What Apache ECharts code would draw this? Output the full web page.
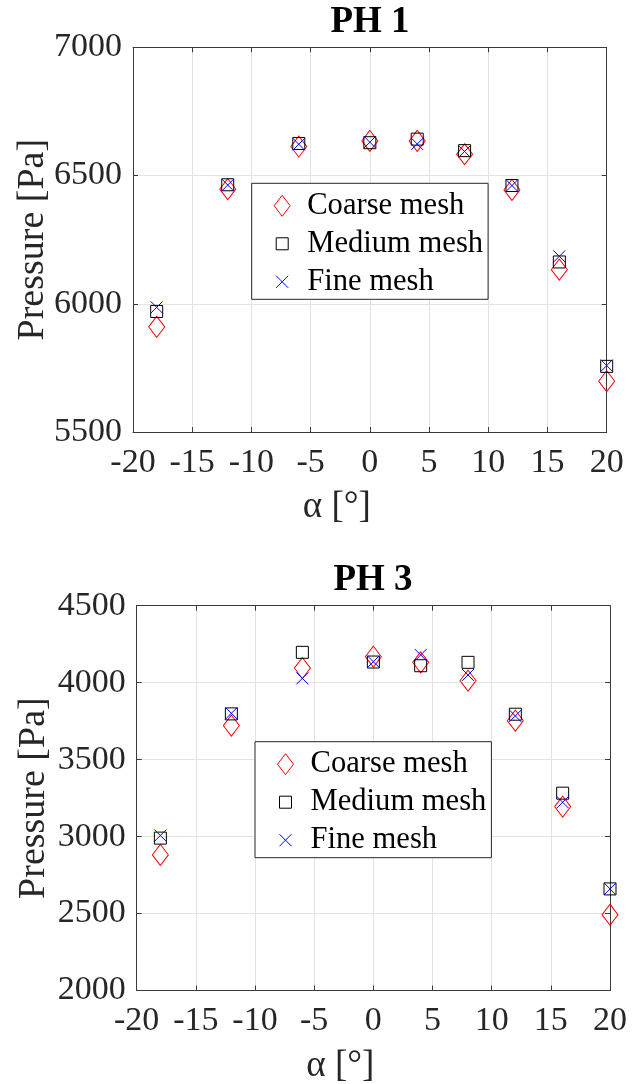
<!DOCTYPE html>
<html>
<head>
<meta charset="utf-8">
<script src="https://cdn.jsdelivr.net/npm/echarts@6/dist/echarts.min.js"></script>
<style>
  html, body { margin: 0; padding: 0; background: #fff; }
  #chart { width: 639px; height: 1084px; }
</style>
</head>
<body>
<div id="chart"></div>
<script>
// Angle of attack (deg)
const alpha = [-18, -12, -6, 0, 4, 8, 12, 16, 20];

// PH 1 pressure (Pa) for the three meshes
const ph1Coarse = [5910, 6447, 6613, 6635, 6635, 6583, 6444, 6133, 5698];
const ph1Medium = [5970, 6464, 6625, 6628, 6642, 6597, 6461, 6163, 5756];
const ph1Fine   = [5986, 6463, 6622, 6630, 6623, 6594, 6461, 6185, 5759];

// PH 3 pressure (Pa) for the three meshes
const ph3Coarse = [2881, 3721, 4095, 4169, 4132, 4013, 3753, 3195, 2492];
const ph3Medium = [2990, 3797, 4197, 4134, 4110, 4132, 3795, 3282, 2660];
const ph3Fine   = [3007, 3801, 4028, 4136, 4180, 4050, 3784, 3223, 2660];

const seriesNames = ['Coarse mesh', 'Medium mesh', 'Fine mesh'];
const xTicks = { min: -20, max: 20, interval: 5 };
const ph1Ticks = { min: 5500, max: 7000, interval: 500 };
const ph3Ticks = { min: 2000, max: 4500, interval: 500 };

const SERIF = 'Liberation Serif, Times New Roman, serif';
const AXIS_COLOR = '#3a3a3a';
const TEXT_COLOR = '#262626';
const GRID_COLOR = '#e3e3e3';

const pairs = (ys) => alpha.map((a, i) => [a, ys[i]]);
const plain = (v) => String(v);

// marker styles (hollow)
const markerStyles = [
  { symbol: 'diamond', symbolSize: [16, 21], color: '#ff0000' },
  { symbol: 'rect', symbolSize: 12, color: '#000000' },
  { symbol: 'path://M0,0L10,10M10,0L0,10', symbolSize: 12, color: '#0000ff' }
];

// legend icons drawn in a fixed 40x21 frame so each keeps its own size
const legendIcons = [
  'path://M0,0M40,21M20,0L28,10.5L20,21L12,10.5Z',
  'path://M0,0M40,21M14,4.5L26,4.5L26,16.5L14,16.5Z',
  'path://M0,0M40,21M14,4.5L26,16.5M26,4.5L14,16.5'
];

function makeGrid(rect) { return Object.assign({ containLabel: false, outerBoundsMode: 'none' }, rect); }

function mainXAxis(gridIndex) {
  return {
    type: 'value', gridIndex, position: 'bottom',
    min: xTicks.min, max: xTicks.max, interval: xTicks.interval,
    name: 'α [°]', nameLocation: 'middle', nameGap: 57, nameMoveOverlap: false,
    nameTextStyle: { fontFamily: SERIF, fontSize: 37, color: TEXT_COLOR, padding: [0, 66, 0, 0] },
    axisLine: { show: true, onZero: false, lineStyle: { color: AXIS_COLOR, width: 1 } },
    axisTick: { show: true, inside: true, length: 5, lineStyle: { color: AXIS_COLOR } },
    axisLabel: { margin: 14, fontFamily: SERIF, fontSize: 34, color: TEXT_COLOR, showMinLabel: true, showMaxLabel: true, formatter: plain },
    splitLine: { show: true, lineStyle: { color: GRID_COLOR, width: 1 } }
  };
}
function topXAxis(gridIndex) {
  return {
    type: 'value', gridIndex, position: 'top',
    min: xTicks.min, max: xTicks.max, interval: xTicks.interval,
    axisLine: { show: true, onZero: false, lineStyle: { color: AXIS_COLOR, width: 1 } },
    axisTick: { show: true, inside: true, length: 5, lineStyle: { color: AXIS_COLOR } },
    axisLabel: { show: false }, splitLine: { show: false }
  };
}
function mainYAxis(gridIndex, ticks, gap) {
  return {
    type: 'value', gridIndex, position: 'left',
    min: ticks.min, max: ticks.max, interval: ticks.interval,
    name: 'Pressure [Pa]', nameLocation: 'middle', nameGap: gap, nameRotate: 90, nameMoveOverlap: false,
    nameTextStyle: { fontFamily: SERIF, fontSize: 38, color: TEXT_COLOR },
    axisLine: { show: true, onZero: false, lineStyle: { color: AXIS_COLOR, width: 1 } },
    axisTick: { show: true, inside: true, length: 5, lineStyle: { color: AXIS_COLOR } },
    axisLabel: { margin: 11, fontFamily: SERIF, fontSize: 34, color: TEXT_COLOR, showMinLabel: true, showMaxLabel: true, formatter: plain },
    splitLine: { show: true, lineStyle: { color: GRID_COLOR, width: 1 } }
  };
}
function rightYAxis(gridIndex, ticks) {
  return {
    type: 'value', gridIndex, position: 'right',
    min: ticks.min, max: ticks.max, interval: ticks.interval,
    axisLine: { show: true, onZero: false, lineStyle: { color: AXIS_COLOR, width: 1 } },
    axisTick: { show: true, inside: true, length: 5, lineStyle: { color: AXIS_COLOR } },
    axisLabel: { show: false }, splitLine: { show: false }
  };
}

function scatterSeries(name, style, data, xAxisIndex, yAxisIndex) {
  return {
    type: 'scatter', name, xAxisIndex, yAxisIndex,
    data: pairs(data), clip: false,
    symbol: style.symbol, symbolSize: style.symbolSize,
    itemStyle: { color: 'none', borderColor: style.color, borderWidth: 1, opacity: 1 },
    emphasis: { disabled: true }
  };
}

function makeLegend(left, top) {
  return {
    orient: 'vertical', left, top,
    padding: [7, 5, 2, 8], itemGap: 7, itemWidth: 40, itemHeight: 21,
    backgroundColor: '#ffffff', borderColor: '#262626', borderWidth: 1, borderRadius: 0,
    selectedMode: false,
    textStyle: { fontFamily: SERIF, fontSize: 30.6, color: '#000000', padding: [0, 0, 0, 0] },
    data: seriesNames.map((n, i) => ({
      name: n, icon: legendIcons[i],
      itemStyle: { color: 'none', borderColor: markerStyles[i].color, borderWidth: 1 }
    }))
  };
}

const chart = echarts.init(document.getElementById('chart'), null, { renderer: 'canvas', width: 639, height: 1084 });

const option = {
  backgroundColor: '#ffffff',
  animation: false,
  title: [
    { text: 'PH 1', left: 370, top: 3.5, textAlign: 'center', padding: 0,
      textStyle: { fontFamily: SERIF, fontSize: 37, fontWeight: 'bold', color: '#000' } },
    { text: 'PH 3', left: 373, top: 561.5, textAlign: 'center', padding: 0,
      textStyle: { fontFamily: SERIF, fontSize: 37, fontWeight: 'bold', color: '#000' } }
  ],
  grid: [
    makeGrid({ left: 133, top: 47.3, width: 473.7, height: 384.7 }),
    makeGrid({ left: 136.7, top: 605.7, width: 473.3, height: 384.8 })
  ],
  xAxis: [mainXAxis(0), topXAxis(0), mainXAxis(1), topXAxis(1)],
  yAxis: [mainYAxis(0, ph1Ticks, 81), rightYAxis(0, ph1Ticks), mainYAxis(1, ph3Ticks, 84), rightYAxis(1, ph3Ticks)],
  legend: [makeLegend(251.7, 183.3), makeLegend(255, 741.7)],
  series: [
    scatterSeries(seriesNames[0], markerStyles[0], ph1Coarse, 0, 0),
    scatterSeries(seriesNames[1], markerStyles[1], ph1Medium, 0, 0),
    scatterSeries(seriesNames[2], markerStyles[2], ph1Fine, 0, 0),
    scatterSeries(seriesNames[0], markerStyles[0], ph3Coarse, 2, 2),
    scatterSeries(seriesNames[1], markerStyles[1], ph3Medium, 2, 2),
    scatterSeries(seriesNames[2], markerStyles[2], ph3Fine, 2, 2)
  ]
};

chart.setOption(option);
</script>
</body>
</html>
